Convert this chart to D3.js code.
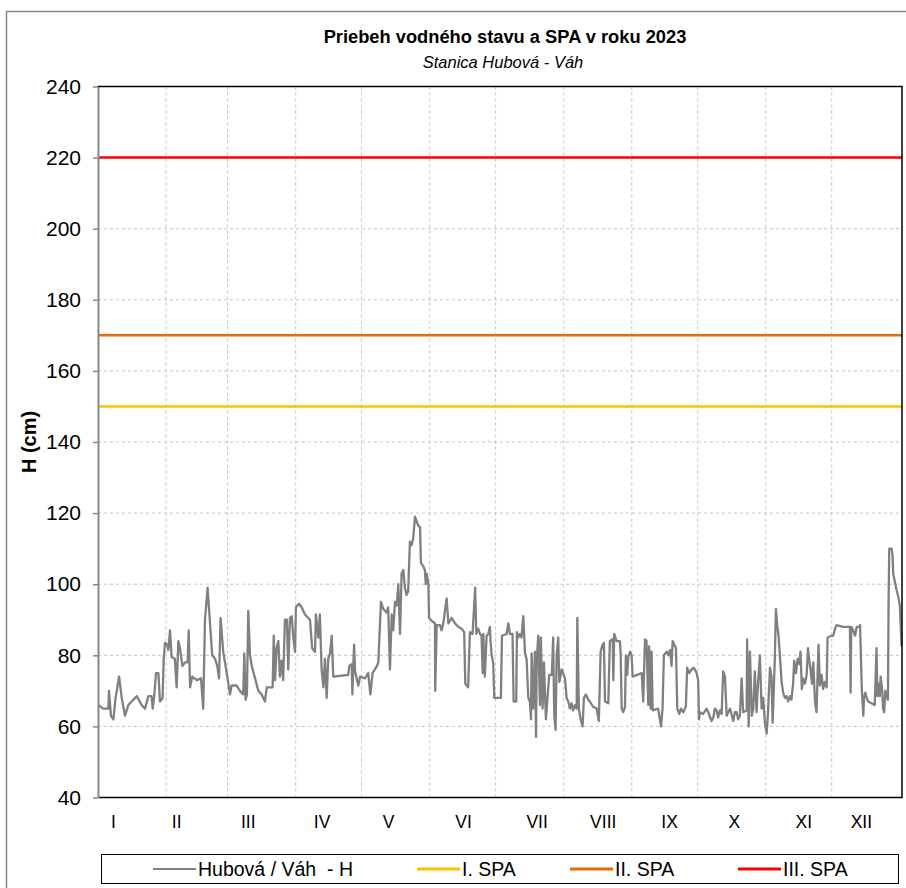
<!DOCTYPE html>
<html>
<head>
<meta charset="utf-8">
<script src="https://cdn.jsdelivr.net/npm/d3@7"></script>
<style>
body { margin: 0; background: #fff; }
text { font-family: "Liberation Sans", Arial, sans-serif; fill: #000; }
</style>
</head>
<body>
<div id="container"></div>
<script>
// water level readings, [day of year, H in cm]
const hubovaH = [
  [0,66],[2.4,65],[4.7,65],[5.0,70],[5.9,63],[7.0,62],[8.0,68],[9.6,74],[10.8,68],[12.3,63],[13.8,66],[15.3,67],
  [17.6,68.5],[19.9,66],[21.4,65],[22.9,68.5],[24.4,68.5],[24.9,65],[25.6,68.5],[26.4,75],[27.5,75],[28.2,67],
  [29.4,68],[29.9,79],[30.5,83.5],[31.5,83],[32.0,81.5],[32.8,87],[33.5,79.5],[35.0,79],[35.8,71],[36.6,84],
  [37.3,82],[38.4,77],[39.6,78],[40.8,78],[41.3,87],[41.9,71],[42.9,74],[44.9,73],[46.9,73.5],[47.9,65],
  [48.7,90],[49.9,99],[51.0,89],[52.0,80],[53.3,79],[54.3,77],[55.1,73.5],[55.8,90.5],[57.0,81],[58.6,75],
  [60.1,69],[60.8,71.5],[63.1,71.5],[64.6,70],[66.1,69],[66.6,80.5],[67.2,67.5],[67.8,69],[68.4,92.5],[69.2,80],
  [70.0,77],[71.5,73.5],[73.0,70],[74.5,69],[76.0,67],[76.8,71],[79.5,71],[80.0,85.5],[80.6,73],[81.3,82],
  [82.1,84],[82.8,74],[83.6,78.5],[84.3,73],[85.1,90],[86.0,90],[86.6,76],[87.4,90.5],[88.2,91],[88.9,85],
  [89.7,81],[90.1,93.5],[91.5,94.5],[92.7,93.5],[94.2,91.5],[96.5,90],[97.5,82],[98.8,81],[99.2,91.5],[100.3,85],
  [101.0,91.5],[101.8,76],[102.6,71],[103.3,79],[104.1,68],[104.8,79],[105.6,80.5],[106.4,85.5],[107.1,74],
  [113.9,74.5],[114.4,77],[115.5,77.5],[115.8,69],[116.2,77],[116.6,83],[117.0,75.5],[118.5,71.5],[119.3,74],
  [121.5,73.5],[123,75],[124,69],[125,75],[127,77],[127.6,78],[128.8,95],[129.9,93],[131.4,92],[132.1,93.5],
  [132.9,76],[133.7,91.5],[134.4,87],[135.2,95],[136.0,94],[136.7,100],[137.5,86],[138.2,103],[139.0,104],
  [139.7,99],[140.5,97],[141.2,98],[142.0,112],[142.8,111],[143.5,113],[144.3,119],[145.1,117.5],[145.8,116.5],
  [146.6,116],[147.0,106],[148.1,105],[148.8,104],[149.2,100],[149.6,103],[150.4,100],[150.7,90.5],[152.2,89.5],
  [153.4,89],[153.5,70],[154.2,88.5],[155.7,88.5],[156.4,87],[157.2,89],[158.7,96],[159.5,89],[161.0,90.5],
  [162.5,89],[164.0,88],[165.5,87.5],[166.7,86.5],[167.2,72],[168.5,71],[169.3,86.5],[170.5,86],[171.7,99],
  [172.2,86],[173.1,87.5],[173.9,86],[174.6,85.5],[175.1,75],[175.4,86],[176.1,74],[176.9,85.5],[177.7,86],
  [178.4,88],[178.7,84],[179.2,80],[179.9,78],[180.4,68],[183.4,68],[183.9,85.5],[186.0,86],[186.8,89],
  [187.5,86],[188.7,86],[189.2,67],[190.4,67],[190.7,86.5],[191.3,85],[192.1,86],[192.8,85],[193.6,91],
  [194.4,80.5],[195.1,79],[195.9,68],[196.6,67],[197.1,62],[197.4,80.5],[198.1,65],[198.9,81],[199.4,57],
  [199.7,78],[200.4,85.5],[201.2,66],[201.6,85],[202.4,65],[203.0,78],[203.9,62],[204.5,67],[205.4,74.5],
  [206.6,74.5],[207.2,85],[207.7,63],[208.3,59],[208.8,80],[209.5,85],[210.0,72.5],[211.1,76],[212.6,73.5],
  [213.3,68],[214.1,67],[214.8,65],[215.6,66.5],[216.3,64.5],[217.1,66],[217.9,65],[218.2,90.5],[218.9,65],
  [219.7,62],[220.6,60],[221.2,68],[222.1,69],[223.2,67.5],[223.9,67],[225.4,65.5],[227.0,65],[228.0,61.5],
  [228.8,81],[229.7,83],[230.3,83.5],[230.8,67],[232.3,66.5],[233.0,84],[234.3,84.5],[234.6,73],[235.0,86],
  [236.1,84],[237.6,84],[237.9,81],[238.4,65],[239.1,64],[239.9,65.5],[240.3,80],[240.9,74.5],[241.4,79.5],
  [242.2,81],[242.9,80],[243.4,74],[247.5,75],[248.2,67],[249.0,84.5],[249.7,84],[250.5,66],[250.9,82.5],
  [251.6,65],[252.0,81],[252.5,64.5],[255.0,65],[255.5,63],[256.3,60],[257.0,65],[257.6,80],[258.9,81],
  [259.6,80],[260.4,81.5],[261.1,77],[261.6,84],[263.1,82],[263.7,65],[264.6,63.5],[265.4,65],[266.4,64],
  [267.6,65.5],[268.2,76.5],[269.1,75],[270.2,76],[271.2,76.5],[272.5,75],[273.2,73],[273.6,62],[274.0,64],
  [275.5,63.5],[277.0,65],[277.8,64],[279.3,61.5],[280.1,62.5],[280.8,65],[281.6,64.5],[282.3,62.5],[283.1,64.5],
  [283.9,63.5],[284.6,75.5],[285.4,74],[286.2,63],[287.7,65],[289.2,61.5],[289.9,64],[290.7,64],[291.4,62],
  [292.2,63],[293.0,73.5],[293.7,64],[295.3,64.5],[295.5,84.5],[296.2,60],[296.8,81],[297.6,63],[298.3,65],
  [299.0,75.5],[299.8,64],[300.5,72.5],[301.3,80],[302.1,65],[302.8,68],[303.6,61],[304.4,58],[305.1,65],
  [305.9,76.5],[306.6,74],[307.1,61],[307.7,71.5],[308.1,79],[308.6,93],[309.2,88.5],[309.8,85.5],[310.4,80],
  [311.2,72.5],[311.9,69.5],[312.7,68],[313.5,68.5],[314.2,67],[315.0,68.5],[315.7,67.5],[316.5,72.5],
  [316.9,78.5],[317.7,75],[318.5,79],[319.2,77.5],[319.8,81],[320.4,70.5],[321.0,73.5],[321.8,72],[322.6,74.5],
  [323.2,82],[323.8,78.5],[324.4,76],[325.0,72],[325.6,78],[326.4,67],[327.1,64],[327.6,75],[328.0,83],
  [328.6,71.5],[329.4,74.5],[330.1,70.5],[330.9,72.5],[331.7,71],[332.1,85],[333.9,85.5],[334.7,85.5],
  [335.5,87.5],[336.2,88.5],[339.2,88],[342.3,88],[342.6,69.5],[342.9,88],[343.8,87],[344.6,85.5],[345.4,88],
  [346.6,88],[346.9,88.5],[347.7,70.5],[348.4,63],[348.7,68],[349.3,69.5],[349.9,68],[350.6,67],[352.1,66.5],
  [353.6,66],[354.4,82],[354.8,68.5],[355.3,72],[355.9,68.5],[356.3,74],[357.0,70],[357.4,65],[357.9,64],
  [358.4,70],[359.0,68.5],[359.6,67.5],[359.9,95.5],[360.2,110],[361.3,110],[361.7,108],[362.0,103],
  [362.8,100.5],[363.5,98.5],[364.3,96.5],[365.0,94],[365.8,82.5]
];

// flood warning levels (SPA)
const spaNames = ['I. SPA', 'II. SPA', 'III. SPA'];
const spaLevels = [150, 170, 220];

// axis ticks
const yTicks = [40, 60, 80, 100, 120, 140, 160, 180, 200, 220, 240];
const monthStarts = [31, 59, 90, 120, 151, 181, 212, 243, 273, 304, 334];
const monthNames = ['I','II','III','IV','V','VI','VII','VIII','IX','X','XI','XII'];
const monthLabelDays = [7, 35.8, 68.4, 102, 132.3, 166.4, 199.9, 230, 260.2, 289.7, 321.3, 347.5];

//sizes
const width = 906;
const height = 888;
const margin_left = 98;
const margin_top = 86.5;
const plot_w = 804;
const plot_h = 711;

const svg = d3.select('#container')
  .append('svg')
  .attr('width', width)
  .attr('height', height);

// outer chart border
svg.append('rect')
  .attr('x', 6.5)
  .attr('y', 11.5)
  .attr('width', 940)
  .attr('height', 940)
  .attr('fill', 'none')
  .attr('stroke', '#888')
  .attr('stroke-width', 1.5);

const x = d3.scaleLinear()
  .domain([0, 366])
  .range([margin_left, margin_left + plot_w]);

const y = d3.scaleLinear()
  .domain([40, 240])
  .range([margin_top + plot_h, margin_top]);

const spaColor = d3.scaleOrdinal()
  .domain(spaNames)
  .range(['#FFC000', '#E46C0A', '#FF0000']);

// gridlines
svg.selectAll('.hgrid')
  .data(yTicks.slice(1, -1))
  .enter()
  .append('line')
  .attr('class', 'hgrid')
  .attr('x1', x(0))
  .attr('x2', x(366))
  .attr('y1', d => y(d))
  .attr('y2', d => y(d))
  .attr('stroke', '#c4c4c4')
  .attr('stroke-dasharray', '3,3');

svg.selectAll('.vgrid')
  .data(monthStarts)
  .enter()
  .append('line')
  .attr('class', 'vgrid')
  .attr('x1', d => x(d))
  .attr('x2', d => x(d))
  .attr('y1', y(240))
  .attr('y2', y(40))
  .attr('stroke', '#c4c4c4')
  .attr('stroke-dasharray', '3,3');

// SPA lines
svg.selectAll('.spa')
  .data(spaNames)
  .enter()
  .append('line')
  .attr('class', 'spa')
  .attr('x1', x(0))
  .attr('x2', x(366))
  .attr('y1', (d, i) => y(spaLevels[i]))
  .attr('y2', (d, i) => y(spaLevels[i]))
  .attr('stroke', d => spaColor(d))
  .attr('stroke-width', 2.5);

// water level line
const line = d3.line()
  .x(d => x(d[0]))
  .y(d => y(d[1]));

svg.append('path')
  .datum(hubovaH)
  .attr('d', line)
  .attr('fill', 'none')
  .attr('stroke', '#808080')
  .attr('stroke-width', 2.3)
  .attr('stroke-linejoin', 'round');

// plot frame (top, right, bottom)
svg.append('path')
  .attr('d', `M${x(0)},${y(240)}H${x(366)}V${y(40)}H${x(0)}`)
  .attr('fill', 'none')
  .attr('stroke', '#000')
  .attr('stroke-width', 1.5);

// y axis
const yAxis = svg.append('g')
  .attr('transform', `translate(${margin_left},0)`)
  .call(d3.axisLeft(y).tickValues(yTicks).tickSize(5).tickSizeOuter(0).tickPadding(12));

yAxis.select('.domain').attr('stroke', '#888').attr('stroke-width', 2);
yAxis.selectAll('.tick line').attr('stroke', '#888').attr('stroke-width', 1.5);
yAxis.selectAll('.tick text')
  .style('font-family', '"Liberation Sans", Arial, sans-serif')
  .style('font-size', '21px')
  .attr('fill', '#000');

svg.append('text')
  .attr('transform', 'translate(36,442) rotate(-90)')
  .attr('text-anchor', 'middle')
  .style('font-size', '20px')
  .style('font-weight', 'bold')
  .text('H (cm)');

// month labels
svg.selectAll('.month')
  .data(monthNames)
  .enter()
  .append('text')
  .attr('class', 'month')
  .attr('x', (d, i) => x(monthLabelDays[i]))
  .attr('y', 822)
  .attr('dy', '0.35em')
  .attr('text-anchor', 'middle')
  .style('font-size', '17.5px')
  .text(d => d);

// title
svg.append('text')
  .attr('x', 505)
  .attr('y', 43)
  .attr('text-anchor', 'middle')
  .style('font-size', '18.3px')
  .style('font-weight', 'bold')
  .text('Priebeh vodného stavu a SPA v roku 2023');

svg.append('text')
  .attr('x', 503)
  .attr('y', 68)
  .attr('text-anchor', 'middle')
  .style('font-size', '16.5px')
  .style('font-style', 'italic')
  .text('Stanica Hubová - Váh');

// legend
const legend = svg.append('g');

legend.append('rect')
  .attr('x', 101.5)
  .attr('y', 854.5)
  .attr('width', 797)
  .attr('height', 29)
  .attr('fill', '#fff')
  .attr('stroke', '#000')
  .attr('stroke-width', 1);

const legendItems = [{name: 'Hubová / Váh  - H', color: '#808080', width: 2}]
  .concat(spaNames.map(d => ({name: d, color: spaColor(d), width: 3})));
const legendX = [153, 417, 570, 738];

legend.selectAll('.legline')
  .data(legendItems)
  .enter()
  .append('line')
  .attr('x1', (d, i) => legendX[i])
  .attr('x2', (d, i) => legendX[i] + 43)
  .attr('y1', 869)
  .attr('y2', 869)
  .attr('stroke', d => d.color)
  .attr('stroke-width', d => d.width);

legend.selectAll('.legtext')
  .data(legendItems)
  .enter()
  .append('text')
  .attr('x', (d, i) => legendX[i] + 45)
  .attr('y', 869)
  .attr('dy', '0.35em')
  .style('font-size', '19.5px')
  .style('white-space', 'pre')
  .text(d => d.name);
</script>
</body>
</html>
